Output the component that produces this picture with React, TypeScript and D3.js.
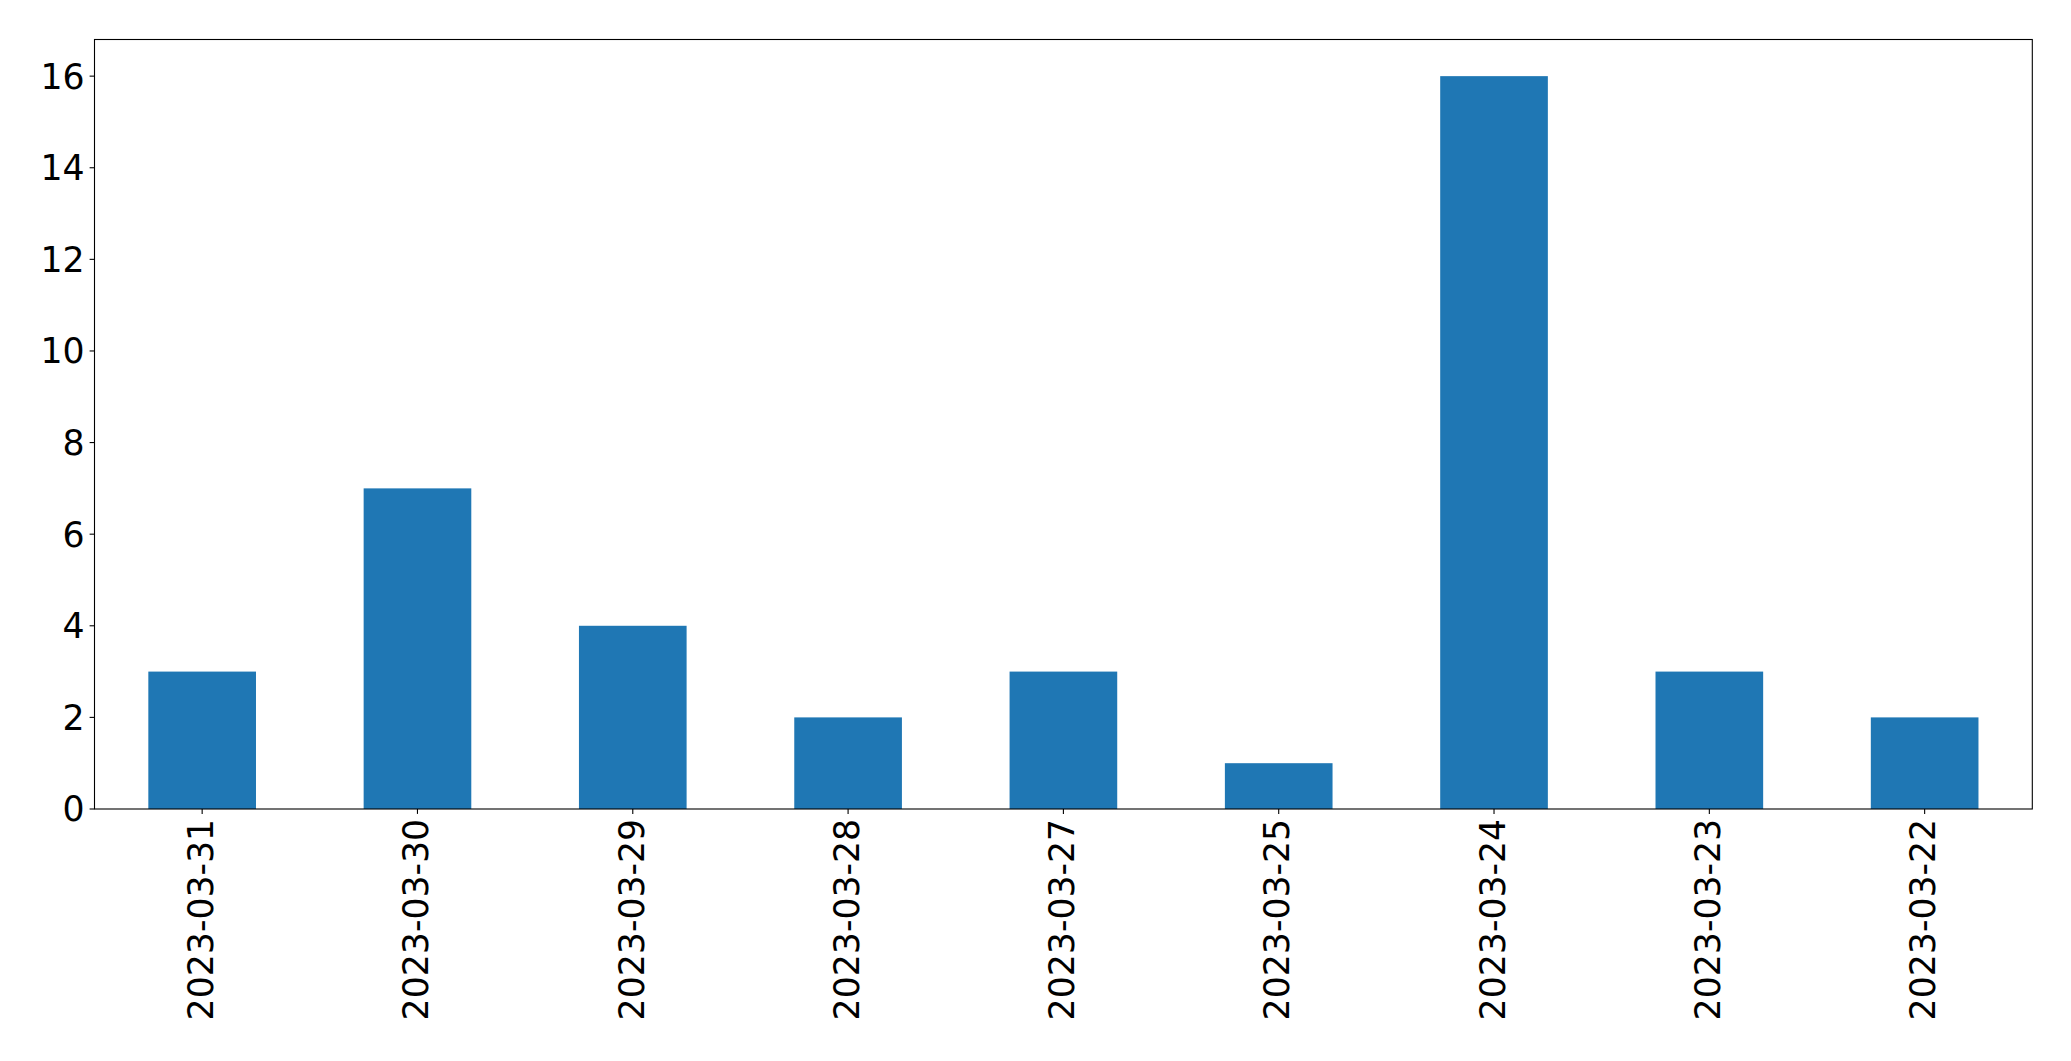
import React from "react";
import * as d3 from "d3";

const categories = ["2023-03-31", "2023-03-30", "2023-03-29", "2023-03-28", "2023-03-27", "2023-03-25", "2023-03-24", "2023-03-23", "2023-03-22"];
const values = [3, 7, 4, 2, 3, 1, 16, 3, 2];
const yTicks = [0, 2, 4, 6, 8, 10, 12, 14, 16];

const W = 2071;
const H = 1061;
const left = 94.5;
const right = 2032.3;
const top = 39.5;
const bottom = 809;
const fontSize = 34.7;
const tickLen = 4.9;
const pad = 4.9;

export default function App() {
  const x = d3.scaleLinear().domain([-0.5, categories.length - 0.5]).range([left, right]);
  const y = d3.scaleLinear().domain([0, 16.8]).range([bottom, top]);
  const bw = x(0.25) - x(-0.25);
  return (
    <svg width={W} height={H} style={{ position: "absolute", left: 0, top: 0, background: "#fff" }} fontFamily="DejaVu Sans">
      <rect x={0} y={0} width={W} height={H} fill="#fff" />
      {values.map((v, i) => (
        <rect key={i} x={x(i) - bw / 2} y={y(v)} width={bw} height={y(0) - y(v)} fill="#1f77b4" />
      ))}
      <rect x={left} y={top} width={right - left} height={bottom - top} fill="none" stroke="#000" strokeWidth={1.1} />
      {yTicks.map((t) => (
        <g key={t}>
          <line x1={left - tickLen} x2={left} y1={y(t)} y2={y(t)} stroke="#000" strokeWidth={1.1} />
          <text x={left - tickLen - pad} y={y(t)} dy="0.36em" textAnchor="end" fontSize={fontSize} fill="#000">{t}</text>
        </g>
      ))}
      {categories.map((c, i) => (
        <g key={c}>
          <line x1={x(i)} x2={x(i)} y1={bottom} y2={bottom + tickLen} stroke="#000" strokeWidth={1.1} />
          <text transform={`translate(${x(i)},${bottom + tickLen + pad}) rotate(-90)`} dy="0.31em" textAnchor="end" fontSize={fontSize} fill="#000">{c}</text>
        </g>
      ))}
    </svg>
  );
}
